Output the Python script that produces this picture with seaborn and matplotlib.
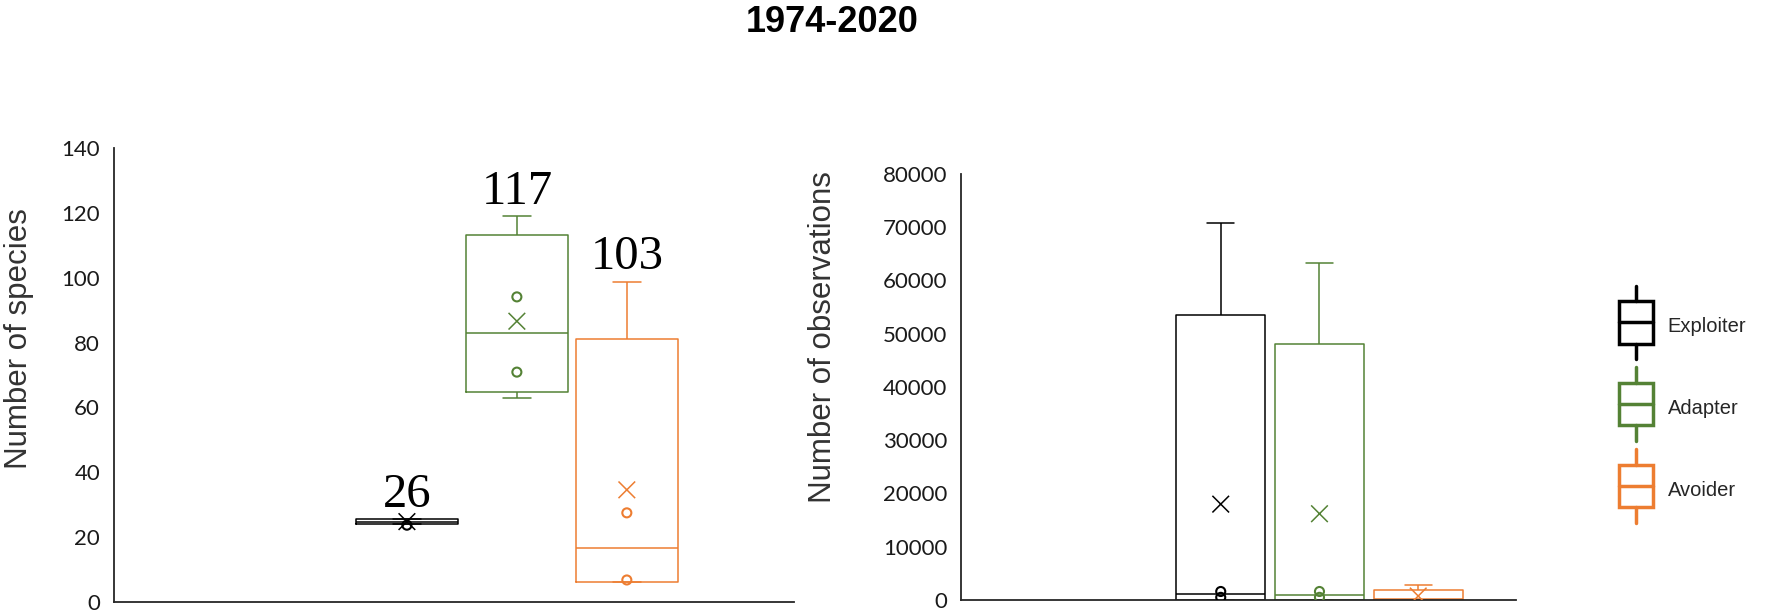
import numpy as np
import pandas as pd
import seaborn as sns
import matplotlib.pyplot as plt
from matplotlib.legend_handler import HandlerBase
from matplotlib.patches import Patch, Rectangle
from matplotlib.lines import Line2D

sns.set_style("white")
plt.rcParams['font.family'] = ['Liberation Sans', 'DejaVu Sans']

groups = ["Exploiter", "Adapter", "Avoider"]
colors = ["#000000", "#548235", "#ED7D31"]

# number of species: whisker low, q1, median, q3, whisker high, mean
sp_low = [24.0, 62.8, 6.3]
sp_q1 = [24.0, 64.7, 6.3]
sp_med = [24.8, 82.9, 16.8]
sp_q3 = [25.6, 113.1, 81.1]
sp_high = [25.6, 119.0, 98.8]
sp_mean = [24.8, 86.6, 34.6]
sp_total = [26, 117, 103]
# inner points
sp_pt_group = ["Exploiter", "Adapter", "Adapter", "Avoider", "Avoider"]
sp_pt_value = [23.7, 94.1, 70.9, 27.5, 6.8]

# number of observations
obs_low = [0, 0, 0]
obs_q1 = [0, 0, 0]
obs_med = [1050, 1000, 100]
obs_q3 = [53500, 48100, 1800]
obs_high = [70800, 63300, 2800]
obs_mean = [18000, 16200, 750]
obs_pt_group = ["Exploiter", "Exploiter", "Adapter", "Adapter"]
obs_pt_value = [1600, 500, 1600, 500]


def box_frame(low, q1, med, q3, high):
    rows = []
    for g, vals in zip(groups, zip(low, q1, med, q3, high)):
        for v in vals:
            rows.append({"period": "", "group": g, "value": v})
    return pd.DataFrame(rows)


def hollow(ax, n_before, lw):
    # turn the strip points into outlined markers
    for c in ax.collections[n_before:]:
        fc = c.get_facecolor().copy()
        c.set_facecolor("none")
        c.set_edgecolor(fc)
        c.set_linewidth(lw)


def draw_panel(ax, low, q1, med, q3, high, mean, pt_group, pt_value, gap, capw):
    df = box_frame(low, q1, med, q3, high)
    sns.boxplot(data=df, x="period", y="value", hue="group", hue_order=groups,
                palette=colors, fill=False, width=0.8, gap=gap, whis=np.inf,
                linewidth=1.1, showfliers=False, legend=False, capwidths=capw, ax=ax)
    n = len(ax.collections)
    mdf = pd.DataFrame({"period": "", "group": groups, "value": mean})
    sns.stripplot(data=mdf, x="period", y="value", hue="group", hue_order=groups,
                  palette=colors, dodge=True, jitter=False, marker="x", size=12,
                  legend=False, ax=ax)
    hollow(ax, n, 1.1)
    means = ax.collections[n:]
    n2 = len(ax.collections)
    pdf = pd.DataFrame({"period": "", "group": pt_group, "value": pt_value})
    sns.stripplot(data=pdf, x="period", y="value", hue="group", hue_order=groups,
                  palette=colors, dodge=True, jitter=False, marker="o", size=6.5,
                  legend=False, ax=ax)
    hollow(ax, n2, 1.5)
    return means


fig = plt.figure(figsize=(17.87, 6.12), dpi=100)
ax1 = fig.add_axes([0.0638, 0.0163, 0.3805, 0.7418])
ax2 = fig.add_axes([0.5378, 0.0196, 0.3106, 0.6962])

means1 = draw_panel(ax1, sp_low, sp_q1, sp_med, sp_q3, sp_high, sp_mean,
                    sp_pt_group, sp_pt_value, 0.07, 0.068)
draw_panel(ax2, obs_low, obs_q1, obs_med, obs_q3, obs_high, obs_mean,
           obs_pt_group, obs_pt_value, 0.1, 0.073)

# totals above each box
for coll, hi, tot in zip(means1, sp_high, sp_total):
    x = coll.get_offsets()[0][0]
    ax1.annotate(str(tot), xy=(x, hi), xytext=(0, 9), textcoords="offset points",
                 ha="center", va="baseline", fontsize=35, family="Liberation Serif",
                 color="black")

ax1.set_xlim(-0.977, 0.672)
ax1.set_ylim(0, 140)
ax1.set_yticks(range(0, 141, 20))
ax2.set_xlim(-0.968, 0.531)
ax2.set_ylim(0, 80000)
ax2.set_yticks(range(0, 80001, 10000))

for ax in (ax1, ax2):
    ax.set_xlabel("")
    ax.set_xticks([])
    for s in ("top", "right"):
        ax.spines[s].set_visible(False)
    for s in ("left", "bottom"):
        ax.spines[s].set_color("#262626")
        ax.spines[s].set_linewidth(1.3)
    ax.tick_params(axis="y", length=0, pad=10, labelsize=16, labelcolor="#1a1a1a")
    for lab in ax.get_yticklabels():
        lab.set_family("Lato")

ax1.set_ylabel("Number of species", fontsize=22.5, color="#333333")
ax1.yaxis.set_label_coords(-0.118, 0.58)
ax2.set_ylabel("Number of observations", fontsize=22.5, color="#333333")
ax2.yaxis.set_label_coords(-0.222, 0.617)

fig.text(0.4656, 0.964, "1974-2020", ha="center", va="center",
         fontsize=26, fontweight="bold", color="black")


class BoxHandler(HandlerBase):
    # vertical box-and-whisker glyph for the legend
    def create_artists(self, legend, orig_handle, xdescent, ydescent, width,
                       height, fontsize, trans):
        c = orig_handle.get_edgecolor()
        cx = -xdescent + width / 2
        total = (height + ydescent) * 0.96
        cy = -ydescent + (height + ydescent) / 2 - 0.35 * fontsize
        bw = width * 0.87
        bh = total * 0.57
        kw = dict(color=c, lw=2.5, transform=trans)
        box = Rectangle((cx - bw / 2, cy - bh / 2), bw, bh, fill=False, edgecolor=c,
                        lw=2.5, transform=trans)
        med = Line2D([cx - bw / 2, cx + bw / 2], [cy, cy], **kw)
        top = Line2D([cx, cx], [cy + bh / 2, cy + total / 2], **kw)
        bot = Line2D([cx, cx], [cy - total / 2, cy - bh / 2], **kw)
        return [box, med, top, bot]


handles = [Patch(edgecolor=c, facecolor="none", label=g) for g, c in zip(groups, colors)]
fig.legend(handles=handles, handler_map={Patch: BoxHandler()}, loc="upper left",
           bbox_to_anchor=(0.9046, 0.5115), frameon=False, borderpad=0,
           borderaxespad=0, fontsize=14.5, handlelength=1.93, handleheight=3.82,
           labelspacing=1.34, handletextpad=0.6, labelcolor="#262626")

fig.savefig("out.png", dpi=100)
